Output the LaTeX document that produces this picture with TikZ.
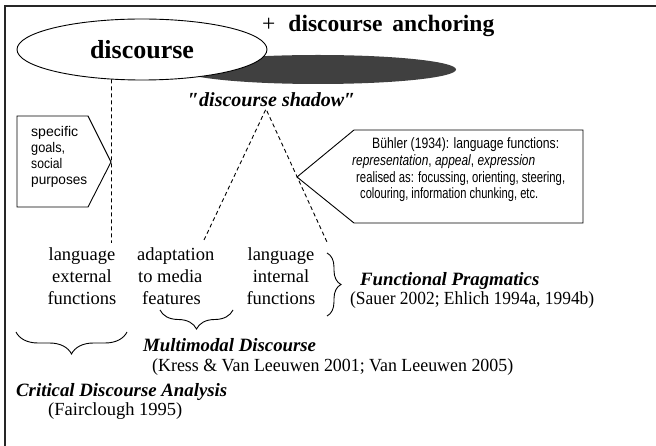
\documentclass[tikz,border=0pt]{standalone}
\usepackage{fontspec}
\setmainfont{Liberation Serif}
\setsansfont{Liberation Sans}
\usepackage{graphicx}
\usetikzlibrary{shapes.geometric,decorations.pathreplacing}

% squeeze a line of text to a given width, keeping its height
\newcommand{\fitline}[2]{\resizebox{#1}{\height}{#2}}

\begin{document}
\begin{tikzpicture}[x=1pt,y=-1pt,
  serif/.style={font=\fontsize{18.5}{22}\selectfont, inner sep=0pt, anchor=base},
  serifw/.style={font=\fontsize{18.5}{22}\selectfont, inner sep=0pt, anchor=base west},
  bolditalic/.style={font=\fontsize{18.8}{22}\selectfont\bfseries\itshape, inner sep=0pt, anchor=base west},
  sans/.style={font=\sffamily\fontsize{15}{17}\selectfont, inner sep=0pt, anchor=base west},
  smallsans/.style={font=\sffamily\fontsize{14}{16}\selectfont, inner sep=0pt, anchor=base west},
  dashline/.style={dash pattern=on 4pt off 3pt, line width=0.9pt},
  outline/.style={line width=0.9pt, line join=miter},
  bracestyle/.style={decorate, decoration={brace, amplitude=#1}, line width=0.9pt},
]
\useasboundingbox (0,0) rectangle (656,446);

% frame (open to the right and bottom)
\draw[line width=2pt, black!85] (5,446) -- (5,6) -- (656,6);

% dark shadow under the discourse ellipse
\fill[black!75] (318,69.5) ellipse [x radius=138, y radius=14.5];

% discourse ellipse
\node[draw, ellipse, fill=white, outline, minimum width=250pt, minimum height=61pt,
      font=\fontsize{26}{30}\selectfont\bfseries] (disc) at (142,49.5) {discourse};

% title
\node[inner sep=0pt, anchor=base west, font=\fontsize{23.5}{28}\selectfont] (title) at (262,32)
  {+\hspace{13pt}\textbf{discourse\hspace{10pt}anchoring}};

% shadow label and the dashed triangle below it
\node[inner sep=0pt, anchor=base west, font=\fontsize{20}{24}\selectfont\bfseries\itshape]
  (shadow) at (188,107) {″discourse shadow″};
\coordinate (apex) at (266,109);
\coordinate (adaptend) at (204,240);
\coordinate (intend) at (327,242);
\draw[dashline] (adaptend) -- (apex) -- (intend);

% vertical dashed line from the ellipse
\coordinate (extend) at (111.5,243);
\draw[dashline] (disc.224) ++(0.5,0) -- (extend);

% "specific goals" box pointing right
\coordinate (g1) at (17,116);
\coordinate (g2) at (88,116);
\coordinate (gtip) at (111,162);
\coordinate (g3) at (88,207);
\coordinate (g4) at (17,207);
\draw[outline] (g1) -- (g2) -- (gtip) -- (g3) -- (g4) -- cycle;
\node[smallsans] (s1) at (31,137) {\fitline{47pt}{specific}};
\node[smallsans] (s2) at (31,153) {\fitline{34pt}{goals,}};
\node[smallsans] (s3) at (31,169) {\fitline{31pt}{social}};
\node[smallsans] (s4) at (31,185) {\fitline{56pt}{purposes}};

% Buehler box pointing left
\coordinate (btip) at (297,177);
\coordinate (b1c) at (354,130);
\coordinate (b2c) at (583,130);
\coordinate (b3c) at (583,223);
\coordinate (b4c) at (354,223);
\draw[outline] (btip) -- (b1c) -- (b2c) -- (b3c) -- (b4c) -- cycle;
\node[sans] (bl1) at (372,149) {\fitline{187pt}{Bühler (1934): language functions:}};
\node[sans] (bl2) at (352,166) {\fitline{183pt}{\textit{representation}, \textit{appeal}, \textit{expression}}};
\node[sans] (bl3) at (356,183) {\fitline{209pt}{realised as: focussing, orienting, steering,}};
\node[sans] (bl4) at (360,199) {\fitline{178pt}{colouring, information chunking, etc.}};

% three function columns
\node[serif] (ext1) at (82,261) {language};
\node[serif] (ext2) at (82,283) {external};
\node[serif] (ext3) at (82,305) {functions};

\node[serifw] (ad1) at (137,261) {adaptation};
\node[serifw] (ad2) at (138,283) {to media};
\node[serifw] (ad3) at (142,305) {features};

\node[serif] (in1) at (281,261) {language};
\node[serif] (in2) at (281,283) {internal};
\node[serif] (in3) at (281,305) {functions};

% Functional Pragmatics
\coordinate (fpt) at (327,253);
\coordinate (fpb) at (327,316);
\draw[bracestyle=14pt] (fpt) -- (fpb);
\node[bolditalic] (fp) at (360,286) {Functional Pragmatics};
\node[serifw] (fpref) at (350,305) {\fitline{244pt}{(Sauer 2002; Ehlich 1994a, 1994b)}};

% Multimodal Discourse
\coordinate (mdr) at (233,310);
\coordinate (mdl) at (160,310);
\draw[bracestyle=19pt] (mdr) -- (mdl);
\node[bolditalic] (md) at (143,352) {Multimodal Discourse};
\node[serifw] (mdref) at (152,372) {\fitline{361pt}{(Kress \& Van Leeuwen 2001; Van Leeuwen 2005)}};

% Critical Discourse Analysis
\coordinate (cdr) at (127,332);
\coordinate (cdl) at (16,332);
\draw[bracestyle=22pt] (cdr) -- (cdl);
\node[bolditalic] (cda) at (16,396) {Critical Discourse Analysis};
\node[serifw] (cdaref) at (48,415) {(Fairclough 1995)};

\end{tikzpicture}
\end{document}
